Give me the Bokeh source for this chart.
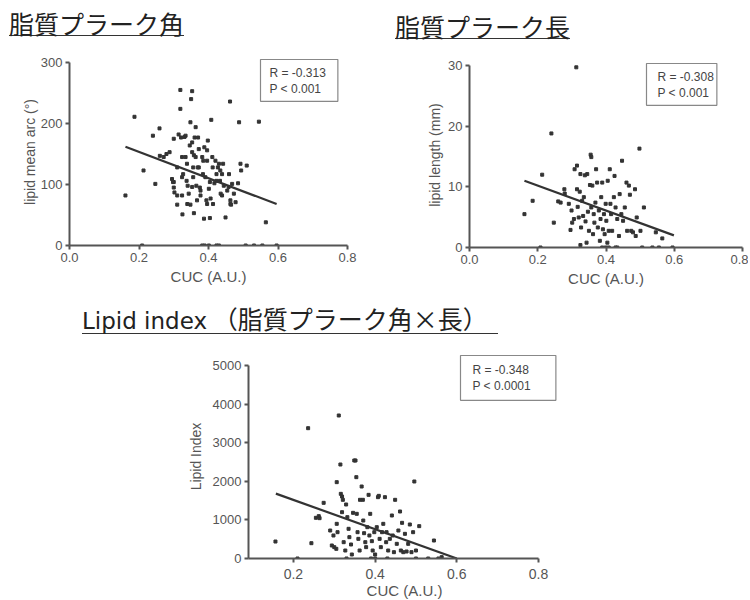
from bokeh.plotting import figure
from bokeh.models import Label, Div, Spacer, FixedTicker, Range1d, PrintfTickFormatter
from bokeh.layouts import column, row
from bokeh.embed import file_html
from bokeh.resources import INLINE

# ---------------- data ----------------
arc_x = [0.161, 0.187, 0.213, 0.240, 0.247, 0.259, 0.260, 0.271, 0.279, 0.288, 0.300, 0.295,
         0.298, 0.300, 0.302, 0.310, 0.310, 0.314, 0.319, 0.319, 0.321, 0.324, 0.327, 0.324,
         0.325, 0.331, 0.334, 0.338, 0.337, 0.340, 0.343, 0.348, 0.353, 0.350, 0.348, 0.346,
         0.353, 0.356, 0.356, 0.358, 0.363, 0.360, 0.363, 0.365, 0.367, 0.370, 0.372, 0.372,
         0.375, 0.377, 0.382, 0.384, 0.387, 0.388, 0.391, 0.394, 0.396, 0.398, 0.401, 0.404,
         0.404, 0.408, 0.411, 0.412, 0.413, 0.417, 0.420, 0.423, 0.427, 0.430, 0.433, 0.435,
         0.439, 0.442, 0.444, 0.449, 0.454, 0.459, 0.462, 0.463, 0.465, 0.468, 0.473, 0.478,
         0.485, 0.488, 0.492, 0.494, 0.510, 0.545, 0.565,
         0.369, 0.423, 0.434, 0.458, 0.439, 0.396, 0.339, 0.310, 0.353, 0.377, 0.406, 0.463,
         0.300, 0.324, 0.358, 0.385, 0.396, 0.353, 0.334,
         0.209, 0.382, 0.389, 0.401, 0.423, 0.430, 0.507, 0.531, 0.555, 0.596]
arc_y = [82, 211, 123, 180, 101, 192, 147, 145, 150, 153, 175, 109,
         104, 95, 87, 128, 67, 182, 255, 224, 177, 145, 117, 82,
         51, 178, 145, 134, 106, 98, 85, 67, 253, 240, 202, 164,
         153, 128, 112, 53, 194, 177, 145, 98, 74, 177, 158, 128,
         95, 82, 145, 117, 44, 161, 112, 74, 139, 172, 93, 104,
         45, 206, 145, 128, 68, 102, 139, 117, 128, 134, 106, 85,
         117, 134, 98, 46, 90, 117, 236, 74, 67, 101, 85, 71,
         102, 202, 134, 123, 131, 203, 38,
         128, 106, 123, 96, 82, 68, 68, 82, 96, 90, 77, 68,
         104, 112, 148, 139, 156, 169, 180,
         0, 0, 0, 0, 0, 0, 0, 0, 0, 0]
arc_fit_x = [0.161, 0.596]
arc_fit_y = [162, 68]

len_x = [0.161, 0.185, 0.213, 0.240, 0.247, 0.260, 0.267, 0.278, 0.279, 0.291, 0.296, 0.299,
         0.301, 0.308, 0.306, 0.313, 0.315, 0.315, 0.317, 0.320, 0.323, 0.325, 0.325, 0.327,
         0.330, 0.333, 0.335, 0.338, 0.340, 0.343, 0.345, 0.347, 0.350, 0.353, 0.355, 0.357,
         0.357, 0.360, 0.362, 0.364, 0.366, 0.369, 0.371, 0.374, 0.376, 0.379, 0.382, 0.384,
         0.386, 0.389, 0.391, 0.394, 0.396, 0.399, 0.401, 0.404, 0.405, 0.408, 0.411, 0.413,
         0.415, 0.418, 0.423, 0.425, 0.428, 0.433, 0.438, 0.440, 0.445, 0.447, 0.450, 0.455,
         0.460, 0.462, 0.467, 0.470, 0.474, 0.479, 0.485, 0.487, 0.490, 0.498, 0.501, 0.511,
         0.546, 0.565,
         0.208, 0.389, 0.399, 0.408, 0.428, 0.433, 0.506, 0.536, 0.555, 0.595]
len_y = [5.5, 7.7, 12.0, 18.8, 4.1, 7.6, 7.4, 9.6, 8.9, 7.2, 2.9, 6.1,
         4.1, 12.9, 4.7, 29.7, 13.5, 9.6, 6.7, 4.95, 9.2, 12.1, 0.4, 3.3,
         7.7, 5.2, 8.3, 11.9, 4.3, 0.8, 12.1, 5.9, 2.75, 10.3, 15.3, 14.9,
         6.6, 10.2, 2.2, 5.5, 4.1, 7.4, 12.9, 10.7, 3.3, 6.1, 1.1, 4.7,
         8.3, 10.7, 3.0, 5.5, 2.2, 7.2, 4.4, 0.8, 11.0, 2.75, 12.9, 7.2,
         5.5, 2.75, 8.3, 11.8, 6.6, 4.7, 1.9, 8.8, 5.5, 14.3, 4.4, 6.6,
         10.7, 2.75, 10.2, 8.7, 2.75, 2.5, 9.6, 1.9, 4.95, 16.3, 2.75, 6.6,
         2.5, 1.5,
         0, 0, 0, 0, 0, 0, 0, 0, 0, 0]
len_fit_x = [0.161, 0.599]
len_fit_y = [11.0, 2.0]

idx_x = [0.156, 0.236, 0.244, 0.274, 0.255, 0.262, 0.264, 0.290, 0.298, 0.294, 0.300, 0.305,
         0.306, 0.306, 0.308, 0.311, 0.315, 0.316, 0.319, 0.321, 0.319, 0.323, 0.327, 0.329,
         0.332, 0.335, 0.337, 0.341, 0.343, 0.346, 0.349, 0.352, 0.354, 0.355, 0.357, 0.359,
         0.362, 0.363, 0.367, 0.370, 0.371, 0.373, 0.376, 0.378, 0.381, 0.384, 0.386, 0.388,
         0.392, 0.394, 0.398, 0.400, 0.404, 0.407, 0.409, 0.411, 0.414, 0.417, 0.420, 0.424,
         0.427, 0.428, 0.432, 0.436, 0.441, 0.443, 0.446, 0.449, 0.453, 0.457, 0.461, 0.463,
         0.466, 0.469, 0.473, 0.477, 0.481, 0.485, 0.489, 0.493, 0.496, 0.500, 0.508, 0.544,
         0.563,
         0.210, 0.330, 0.390, 0.400, 0.430, 0.500, 0.530, 0.555]
idx_y = [440, 3376, 397, 1442, 1054, 1097, 1045, 725, 596, 337, 294, 250,
         1978, 898, 682, 3705, 2435, 1675, 1606, 1520, 1200, 423, 207, 1399,
         1071, 769, 553, 363, 104, 1183, 2539, 2539, 2107, 1157, 682, 509,
         207, 1520, 1865, 1520, 984, 656, 423, 294, 812, 1649, 596, 1157,
         449, 207, 682, 104, 812, 1589, 1623, 509, 294, 682, 898, 1589,
         423, 682, 207, 509, 1114, 596, 164, 1520, 380, 725, 1218, 207,
         924, 164, 639, 181, 380, 881, 164, 682, 1995, 207, 838, 466,
         35,
         0, 0, 0, 0, 0, 0, 0, 0]
idx_fit_x = [0.157, 0.600]
idx_fit_y = [1681, 0]

GRAY = "#555555"
FONT = "Liberation Sans"


def make_panel(xs, ys, fx, fy, x_lim, y_max, x_tail_px, y_head_px, xticks, yticks,
               xlabel, ylabel, stats, stat_pos, stat_pad, fw, fh, bl, br, bt, bb,
               xtick_size="13px", xstand=3, xlab_stand=3, ylab_stand=0):
    # the frame reaches x_tail_px past the end of the x axis and y_head_px above the y axis,
    # so that the stats box (clipped to the frame) fits in
    x0, x1 = x_lim
    x_end = x0 + (x1 - x0) * fw / (fw - x_tail_px)
    y_end = y_max * fh / (fh - y_head_px)
    p = figure(frame_width=fw, frame_height=fh, min_border_left=bl, min_border_right=br,
               min_border_top=bt, min_border_bottom=bb, x_range=Range1d(x0, x_end),
               y_range=Range1d(0, y_end), output_backend="svg", toolbar_location=None,
               tools="")
    p.outline_line_color = None
    p.xgrid.visible = False
    p.ygrid.visible = False
    p.background_fill_color = "white"
    p.border_fill_color = "white"
    for ax in (p.xaxis[0], p.yaxis[0]):
        ax.axis_line_color = GRAY
        ax.axis_line_width = 2
        ax.major_tick_line_color = GRAY
        ax.major_tick_line_width = 2
        ax.major_tick_out = 4
        ax.major_tick_in = 0
        ax.minor_tick_line_color = None
        ax.major_label_text_font = FONT
        ax.major_label_text_color = GRAY
        ax.major_label_standoff = 3
        ax.axis_label_text_font = FONT
        ax.axis_label_text_font_style = "normal"
        ax.axis_label_text_color = GRAY
    p.xaxis[0].axis_label_text_font_size = "15px"
    p.yaxis[0].axis_label_text_font_size = "14px"
    p.xaxis[0].major_label_standoff = xstand
    p.xaxis[0].axis_label_standoff = xlab_stand
    p.yaxis[0].axis_label_standoff = ylab_stand
    p.xaxis[0].bounds = (x0, x1)
    p.yaxis[0].bounds = (0, y_max)
    p.xaxis[0].major_label_text_font_size = xtick_size
    p.yaxis[0].major_label_text_font_size = "13px"
    p.xaxis[0].ticker = FixedTicker(ticks=xticks)
    p.yaxis[0].ticker = FixedTicker(ticks=yticks)
    p.xaxis[0].formatter = PrintfTickFormatter(format="%.1f")
    p.yaxis[0].formatter = PrintfTickFormatter(format="%d")
    p.xaxis[0].axis_label = xlabel
    p.yaxis[0].axis_label = ylabel

    p.scatter(xs, ys, marker="square", size=3, color="#333333")
    p.line(fx, fy, line_width=2.2, color="#333333")

    lab = Label(x=stat_pos[0], y=fh - stat_pos[1], x_units="screen", y_units="screen",
                text=stats, text_font=FONT, text_font_size="12px", text_color="#444444",
                text_align="left", text_baseline="top", text_line_height=1.2,
                border_line_color="#888888", border_line_width=1.2,
                background_fill_color="white",
                padding=dict(left=stat_pad[0], right=stat_pad[1], top=stat_pad[2],
                             bottom=stat_pad[3]))
    p.add_layout(lab)
    return p


def title_div(html, width, height, pad):
    return Div(text=html, width=width, height=height, margin=0,
               styles={"padding": pad, "box-sizing": "border-box"})


t_style = ("display:inline-block; font-family:'Noto Sans CJK JP'; font-size:25px; "
           "line-height:24px; color:#222; border-bottom:1.6px solid #333; white-space:nowrap;")

div1 = title_div(f'<span style="{t_style}">脂質プラーク角</span>', 370, 50, "11px 0 0 9px")
div2 = title_div(f'<span style="{t_style}">脂質プラーク長</span>', 378, 50, "14px 0 0 25px")
div3 = title_div(
    f'<span style="{t_style} padding-right:10px;">'
    '<span style="font-family:\'DejaVu Sans\'; font-size:23px;">Lipid index</span> （脂質プラーク角×長）</span>',
    748, 45, "6px 0 0 82px")

p1 = make_panel(arc_x, arc_y, arc_fit_x, arc_fit_y, (0, 0.8), 300, 0, 4,
                [0, 0.2, 0.4, 0.6, 0.8], [0, 100, 200, 300],
                "CUC (A.U.)", "lipid mean arc (°)", "R = -0.313\nP <  0.001",
                (191, 1), (9, 12, 6, 5),
                278, 187, 69, 23, 8, 55, ylab_stand=0)
p2 = make_panel(len_x, len_y, len_fit_x, len_fit_y, (0, 0.8), 30, 0, 3,
                [0, 0.2, 0.4, 0.6, 0.8], [0, 10, 20, 30],
                "CUC (A.U.)", "lipid length (mm)", "R = -0.308\nP < 0.001",
                (177, 1), (11, 3, 6, 5),
                273, 185, 99, 6, 12, 53, ylab_stand=2)
p3 = make_panel(idx_x, idx_y, idx_fit_x, idx_fit_y, (0.09, 0.8), 5000, 22, 11,
                [0.2, 0.4, 0.6, 0.8], [0, 1000, 2000, 3000, 4000, 5000],
                "CUC (A.U.)", "Lipid Index", "R = -0.348\nP < 0.0001",
                (212, 1), (12, 25, 7, 7),
                312, 204, 90, 8, 9, 40, xtick_size="14px", xstand=6, xlab_stand=0,
                ylab_stand=6)

layout = column(
    row(column(div1, p1), column(div2, p2)),
    div3,
    row(Spacer(width=158, height=10), p3),
)

open("out.html", "w").write(file_html(layout, INLINE))
